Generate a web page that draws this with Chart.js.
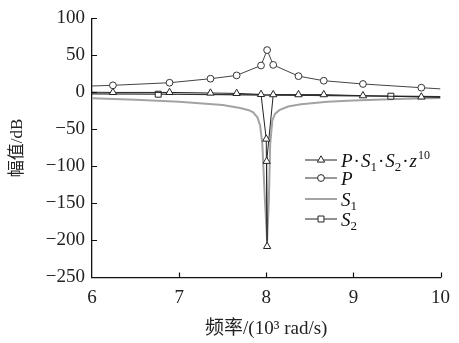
<!DOCTYPE html>
<html><head><meta charset="utf-8">
<script src="https://cdn.jsdelivr.net/npm/chart.js@4"></script>
<style>html,body{margin:0;padding:0;background:#fff}#w{width:459px;height:343px;position:relative}</style>
</head><body><div id="w"><canvas id="c"></canvas></div>
<script>
// ---- data ----
const xTicks = [6, 7, 8, 9, 10];
const yTicks = [100, 50, 0, -50, -100, -150, -200, -250];

const freqP = [6.0, 6.24, 6.89, 7.36, 7.66, 7.94, 8.01, 8.08, 8.37, 8.66, 9.11, 9.78, 10.0];
const magP  = [8.7, 9.6, 13.1, 18.5, 23.0, 36.4, 57.2, 37.2, 22.0, 15.8, 11.4, 6.4, 4.8];

const freqProd = [6.0, 6.24, 6.89, 7.36, 7.66, 7.94, 8.0, 8.01, 8.005, 8.08, 8.37, 8.66, 9.11, 9.78, 10.0];
const magProd  = [0.3, 0.0, 0.0, -0.8, -1.3, -2.7, -63, -208, -93, -3.0, -3.0, -3.0, -4.4, -6.1, -6.6];

const freqS1 = [6.0, 6.5, 7.0, 7.5, 7.7, 7.8, 7.85, 7.9, 7.93, 7.955, 7.985, 8.01, 8.03, 8.045, 8.07, 8.1, 8.15, 8.25, 8.4, 8.7, 9.0, 9.5, 10.0];
const magS1  = [-8, -10, -12.5, -17, -21, -24, -27, -34, -45, -70, -146, -200, -146, -70, -38, -29, -24, -19, -16, -12.5, -11, -9, -7.5];

const freqS2 = [6.0, 6.76, 7.5, 8.0, 8.5, 9.0, 9.43, 10.0];
const magS2  = [-2.0, -2.4, -3.0, -3.5, -4.0, -4.6, -5.1, -5.8];
const s2MarkerFreq = [6.76, 9.43];

const xTitle = '频率/(10³ rad/s)';
const yTitle = '幅值/dB';

// ---- build ----
const pts = (xs, ys) => xs.map((x, i) => ({x, y: ys[i]}));
const innerOnly = r => ctx => (ctx.dataIndex === 0 || ctx.dataIndex === ctx.dataset.data.length - 1) ? 0 : r;

const SERIF = "'Liberation Serif', 'DejaVu Serif', serif";

const legendRows = [
  {style: 'triangle', r: 4.2, color: '#222', width: 1, y: 160,
   parts: [['P','i'],['·','n'],['S','i'],['1','sub'],['·','n'],['S','i'],['2','sub'],['·','n'],['z','i'],['10','sup']]},
  {style: 'circle', r: 3.4, color: '#333', width: 1, y: 178,
   parts: [['P','i']]},
  {style: null, color: '#a3a3a3', width: 2, y: 199,
   parts: [['S','i'],['1','sub']]},
  {style: 'rect', r: 4.2, color: '#222', width: 1, y: 219,
   parts: [['S','i'],['2','sub']]},
];

const decor = {
  id: 'decor',
  afterDraw(chart) {
    const {ctx, chartArea: a, scales: {x, y}} = chart;
    ctx.save();
    ctx.strokeStyle = '#111';
    ctx.lineWidth = 1.2;
    ctx.beginPath();
    yTicks.forEach(v => {
      if (v === -250) return;
      const py = Math.round(y.getPixelForValue(v)) + 0.5;
      ctx.moveTo(a.left, py); ctx.lineTo(a.left + 5, py);
    });
    xTicks.forEach(v => {
      if (v === 6) return;
      const px = Math.round(x.getPixelForValue(v)) + 0.5;
      ctx.moveTo(px, a.bottom); ctx.lineTo(px, a.bottom - 5);
    });
    ctx.stroke();

    // legend
    const lx0 = 305, lx1 = 337, tx = 341;
    legendRows.forEach(row => {
      ctx.strokeStyle = row.color;
      ctx.lineWidth = row.width;
      ctx.beginPath();
      ctx.moveTo(lx0, row.y); ctx.lineTo(lx1, row.y);
      ctx.stroke();
      if (row.style) {
        ctx.fillStyle = '#fff';
        ctx.strokeStyle = '#222';
        ctx.lineWidth = 1;
        Chart.helpers.drawPoint(ctx, {pointStyle: row.style, radius: row.r, rotation: 0, borderWidth: 1}, (lx0 + lx1) / 2, row.y);
      }
      let cx = tx;
      ctx.fillStyle = '#111';
      ctx.textBaseline = 'alphabetic';
      ctx.textAlign = 'left';
      const base = row.y + 6.5;
      row.parts.forEach(([t, k]) => {
        let font, dy = 0, pre = 0, post = 0;
        if (k === 'i') font = 'italic 19px ' + SERIF;
        else if (k === 'sub') { font = '13px ' + SERIF; dy = 4; }
        else if (k === 'sup') { font = '12px ' + SERIF; dy = -8; pre = 1; }
        else { font = '19px ' + SERIF; pre = 1; post = 1; }
        ctx.font = font;
        cx += pre;
        ctx.fillText(t, cx, base + dy);
        cx += ctx.measureText(t).width + post;
      });
    });
    ctx.restore();
  }
};

new Chart(document.getElementById('c'), {
  type: 'scatter',
  data: {
    datasets: [
      {label: 'P·S1·S2·z10', data: pts(freqProd, magProd), showLine: true, order: 1,
       borderColor: '#222', borderWidth: 1, backgroundColor: '#fff',
       pointStyle: 'triangle', pointRadius: innerOnly(4.2), pointBorderColor: '#222', pointBorderWidth: 1, pointBackgroundColor: '#fff'},
      {label: 'P', data: pts(freqP, magP), showLine: true, order: 2,
       borderColor: '#444', borderWidth: 1, backgroundColor: '#fff',
       pointStyle: 'circle', pointRadius: innerOnly(3.4), pointBorderColor: '#333', pointBorderWidth: 1, pointBackgroundColor: '#fff'},
      {label: 'S1', data: pts(freqS1, magS1), showLine: true, order: 5,
       borderColor: '#a3a3a3', borderWidth: 2, pointRadius: 0},
      {label: 'S2', data: pts(freqS2, magS2), showLine: true, order: 3,
       borderColor: '#333', borderWidth: 1.3, backgroundColor: '#fff',
       pointStyle: 'rect', pointRadius: ctx => s2MarkerFreq.includes(freqS2[ctx.dataIndex]) ? 4.2 : 0,
       pointBorderColor: '#222', pointBorderWidth: 1, pointBackgroundColor: '#fff'},
    ]
  },
  options: {
    responsive: true, maintainAspectRatio: false, animation: false,
    events: [],
    layout: {padding: {top: 16, right: 13, bottom: 0, left: 0}},
    plugins: {legend: {display: false}, tooltip: {enabled: false}},
    scales: {
      x: {
        type: 'linear', min: 6, max: 10,
        afterBuildTicks: s => { s.ticks = xTicks.map(v => ({value: v})); },
        afterFit: s => { s.height = 65.5; },
        grid: {display: false, drawTicks: false},
        border: {display: true, color: '#111', width: 1.3},
        ticks: {padding: 9, color: '#222', font: {family: SERIF, size: 19}, maxRotation: 0},
        title: {display: true, text: xTitle, color: '#222', font: {family: "'Liberation Serif', 'Noto Sans CJK SC', serif", size: 19}, padding: {top: 0, bottom: 3}}
      },
      y: {
        type: 'linear', min: -250, max: 100,
        afterBuildTicks: s => { s.ticks = yTicks.map(v => ({value: v})); },
        afterFit: s => { s.width = 92; },
        grid: {display: false, drawTicks: false},
        border: {display: true, color: '#111', width: 1.3},
        ticks: {padding: 7, color: '#222', font: {family: SERIF, size: 19},
                callback: v => v < 0 ? '\u2212' + Math.abs(v) : String(v)},
        title: {display: true, text: yTitle, color: '#222', font: {family: "'Liberation Serif', 'Noto Sans CJK SC', serif", size: 17}, padding: {top: 7, bottom: 0}}
      }
    }
  },
  plugins: [decor]
});
</script>
</body></html>
